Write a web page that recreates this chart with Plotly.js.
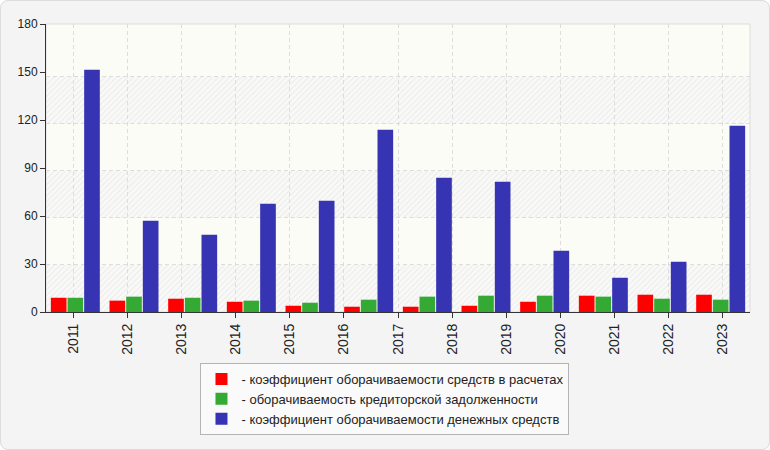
<!DOCTYPE html>
<html>
<head>
<meta charset="utf-8">
<script src="https://cdn.plot.ly/plotly-3.0.1.min.js"></script>
<style>
  html, body { margin: 0; padding: 0; background: #ffffff; }
  #wrap { position: relative; width: 770px; height: 450px; }
  #plotly { position: absolute; left: 0; top: 0; width: 770px; height: 450px;
            border-radius: 8px; overflow: hidden; }
  #frame { position: absolute; left: 0; top: 0; width: 770px; height: 450px;
           box-sizing: border-box; border: 1px solid #dcdcdc; border-radius: 8px;
           pointer-events: none; }
</style>
</head>
<body>
<div id="wrap">
  <div id="plotly"></div>
  <div id="frame"></div>
</div>
<script>
// axis labels (13 years) and the 12 bar groups drawn across the same width
var years = ['2011', '2012', '2013', '2014', '2015', '2016', '2017',
             '2018', '2019', '2020', '2021', '2022', '2023'];
var receivablesTurnover = [8.9, 7.1, 8.3, 6.4, 3.9, 3.3, 3.3, 3.9, 6.4, 10.2, 10.8, 10.8];
var payablesTurnover = [8.9, 9.6, 8.9, 7.1, 5.8, 7.7, 9.6, 10.2, 10.2, 9.6, 8.3, 7.7];
var cashTurnover = [151.4, 57.1, 48.3, 67.7, 69.6, 113.9, 83.9, 81.4, 38.3, 21.4, 31.4, 116.4];
var seriesNames = [
  '- коэффициент оборачиваемости средств в расчетах',
  '- оборачиваемость кредиторской задолженности',
  '- коэффициент оборачиваемости денежных средств'
];
var seriesColors = ['rgb(255, 0, 0)', 'rgb(52, 170, 52)', 'rgb(54, 52, 178)'];
var gridValues = [30, 60, 90, 120, 150];
var hatchBands = [0, 60, 120];

var hatchImage = function() {
  var svg;
  svg = "<svg xmlns='http://www.w3.org/2000/svg' width='704' height='47' viewBox='0 0 704 47' preserveAspectRatio='none'>" +
    "<defs><pattern id='h' width='4' height='4' patternUnits='userSpaceOnUse' patternTransform='rotate(45)'>" +
    "<line x1='2' y1='0' x2='2' y2='4' stroke='#ececec' stroke-width='1.2'/></pattern></defs>" +
    "<rect width='704' height='47' fill='#f9f9f8'/><rect width='704' height='47' fill='url(#h)'/></svg>";
  return 'data:image/svg+xml;charset=utf-8,' + encodeURIComponent(svg);
};

var chartPlot = function() {
  var config, data, groupIndex, labelIndex, layout, images, values;
  groupIndex = receivablesTurnover.map(function(v, i) { return i; });
  labelIndex = years.map(function(v, i) { return i; });
  values = [receivablesTurnover, payablesTurnover, cashTurnover];
  data = values.map(function(series, k) {
    return {
      type: 'bar',
      x: groupIndex,
      y: series,
      name: seriesNames[k],
      marker: { color: seriesColors[k], line: { width: 0 } },
      hoverinfo: 'skip'
    };
  });
  // empty trace so the year axis is drawn
  data.push({
    type: 'scatter',
    x: labelIndex,
    y: labelIndex.map(function() { return 0; }),
    xaxis: 'x2',
    yaxis: 'y',
    mode: 'none',
    showlegend: false,
    hoverinfo: 'skip'
  });
  images = hatchBands.map(function(v) {
    return {
      source: hatchImage(),
      xref: 'paper', yref: 'y2',
      x: 0, y: v + 30,
      sizex: 1, sizey: 30,
      sizing: 'stretch',
      xanchor: 'left', yanchor: 'top',
      layer: 'below'
    };
  });
  layout = {
    width: 770,
    height: 450,
    margin: { l: 46, r: 20, t: 24, b: 138 },
    paper_bgcolor: '#f4f4f4',
    plot_bgcolor: '#fcfcf6',
    font: { family: 'Liberation Sans, Arial, sans-serif', color: '#222222' },
    barmode: 'group',
    bargap: 0.148,
    bargroupgap: 0.06,
    showlegend: true,
    legend: {
      x: 0.4815, xanchor: 'center',
      y: -0.177, yanchor: 'top',
      bgcolor: '#fafafa',
      bordercolor: '#b4b4b4',
      borderwidth: 1,
      font: { size: 13, color: '#222222' },
      tracegroupgap: 0
    },
    xaxis: {
      range: [-0.5, 11.5],
      showticklabels: false,
      ticks: '',
      showgrid: false,
      zeroline: false,
      showline: true,
      linecolor: '#333333',
      linewidth: 1
    },
    xaxis2: {
      overlaying: 'x',
      anchor: 'y',
      side: 'bottom',
      range: [-0.5, 12.5],
      tickmode: 'array',
      tickvals: labelIndex,
      ticktext: years,
      tickangle: -90,
      ticks: 'outside',
      ticklen: 5,
      tickcolor: '#333333',
      tickfont: { size: 14, color: '#222222' },
      showgrid: true,
      gridcolor: '#dddddd',
      gridwidth: 1,
      griddash: '4px,3px',
      zeroline: false,
      showline: false
    },
    yaxis: {
      range: [0, 180],
      dtick: 30,
      ticks: 'outside',
      ticklen: 5,
      tickcolor: '#333333',
      tickfont: { size: 12, color: '#222222' },
      showgrid: false,
      zeroline: false,
      showline: true,
      linecolor: '#333333',
      linewidth: 1
    },
    yaxis2: {
      overlaying: 'y',
      anchor: 'x',
      range: [0, 183.8],
      tickmode: 'array',
      tickvals: gridValues,
      showticklabels: false,
      ticks: '',
      showgrid: true,
      gridcolor: '#dddddd',
      gridwidth: 1,
      griddash: '4px,3px',
      zeroline: false,
      showline: false
    },
    images: images,
    shapes: [{
      type: 'rect',
      xref: 'paper', yref: 'paper',
      x0: 0, x1: 1, y0: 0, y1: 1,
      line: { color: '#dcdcdc', width: 1 },
      layer: 'below'
    }]
  };
  config = {
    staticPlot: true
  };
  Plotly.newPlot('plotly', data, layout, config);
};

chartPlot();
</script>
</body>
</html>
